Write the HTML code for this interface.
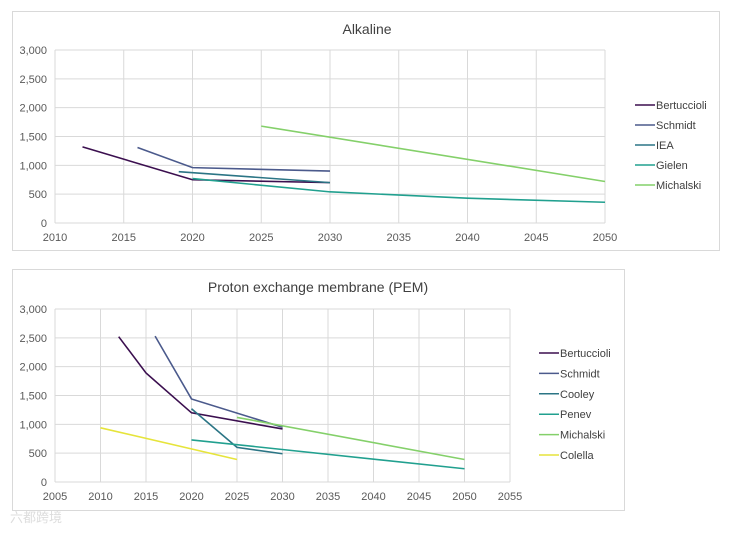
<!DOCTYPE html>
<html><head><meta charset="utf-8"><style>
body{margin:0;background:#fff;font-family:"Liberation Sans",sans-serif;}
svg text{font-family:"Liberation Sans",sans-serif;fill:#595959;}
</style></head><body>
<svg width="736" height="531">
<rect x="12.5" y="11.5" width="707" height="239" fill="#fff" stroke="#d9d9d9"/>
<rect x="12.5" y="269.5" width="612" height="241" fill="#fff" stroke="#d9d9d9"/>
<text x="367" y="34" font-size="14" text-anchor="middle" style="fill:#404040">Alkaline</text>
<text x="318" y="292" font-size="14" text-anchor="middle" style="fill:#404040">Proton exchange membrane (PEM)</text>
<g id="c1"></g><g id="c2"></g>
<text x="10" y="522" font-size="13" style="fill:#ddd">六都跨境</text>
</svg>
<script>
const yTicks=[0,500,1000,1500,2000,2500,3000];
const a_names=["Bertuccioli","Schmidt","IEA","Gielen","Michalski"];
const a_x=[[2012,2020,2030],[2016,2020,2030],[2019,2030],[2020,2030,2040,2050],[2025,2050]];
const a_y=[[1320,750,700],[1310,960,900],[890,700],[770,540,430,360],[1680,720]];
const a_xTicks=[2010,2015,2020,2025,2030,2035,2040,2045,2050];
const p_names=["Bertuccioli","Schmidt","Cooley","Penev","Michalski","Colella"];
const p_x=[[2012,2015,2020,2030],[2016,2020,2030],[2020,2025,2030],[2020,2050],[2025,2050],[2010,2025]];
const p_y=[[2520,1890,1200,920],[2530,1440,950],[1270,600,490],[730,230],[1120,390],[940,390]];
const p_xTicks=[2005,2010,2015,2020,2025,2030,2035,2040,2045,2050,2055];
const ac=["#3b0f4f","#4b5a8c","#2b7585","#21a08f","#84d06a"];
const pc=["#3b0f4f","#4b5a8c","#2b7585","#21a08f","#84d06a","#e6e43b"];
const NS="http://www.w3.org/2000/svg";
function mk(g,t,at){const e=document.createElementNS(NS,t);for(const k in at)e.setAttribute(k,at[k]);g.appendChild(e);return e;}
function draw(gid,cfg){
 const g=document.getElementById(gid);
 const sx=v=>cfg.x0+(v-cfg.xmin)/(cfg.xmax-cfg.xmin)*(cfg.x1-cfg.x0);
 const sy=v=>cfg.y0-(v/3000)*(cfg.y0-cfg.y1);
 cfg.xT.forEach(t=>{const l=mk(g,"line",{x1:sx(t),x2:sx(t),y1:cfg.y1,y2:cfg.y0,stroke:"#d9d9d9"});
  
  
  const tx=mk(g,"text",{x:sx(t),y:cfg.y0+18,"font-size":11,"text-anchor":"middle"});tx.textContent=t;
  
  });
 yTicks.forEach(t=>{const l=mk(g,"line",{x1:cfg.x0,x2:cfg.x1,y1:sy(t),y2:sy(t),stroke:"#d9d9d9"});
  
  
  const tx=mk(g,"text",{x:cfg.x0-8,y:sy(t)+4,"font-size":11,"text-anchor":"end"});tx.textContent=t.toLocaleString("en-US");
  
  });
 cfg.names.forEach((n,i)=>{
  const pts=cfg.xs[i].map((x,j)=>sx(x)+","+sy(cfg.ys[i][j])).join(" ");
  const pl=mk(g,"polyline",{points:pts,fill:"none",stroke:cfg.col[i],"stroke-width":1.6});
  
  
  const ly=cfg.ly+i*cfg.ld;
  const ll=mk(g,"line",{x1:cfg.lx,x2:cfg.lx+20,y1:ly,y2:ly,stroke:cfg.col[i],"stroke-width":1.5});
  
  
  const lt=mk(g,"text",{x:cfg.lx+21,y:ly+4,"font-size":11,style:"fill:#404040"});lt.textContent=n;
  
  
 });
}
draw("c1",{x0:55,x1:605,xmin:2010,xmax:2050,y0:223,y1:50,xT:a_xTicks,names:a_names,xs:a_x,ys:a_y,col:ac,lx:635,ly:105,ld:20});
draw("c2",{x0:55,x1:510,xmin:2005,xmax:2055,y0:482,y1:309,xT:p_xTicks,names:p_names,xs:p_x,ys:p_y,col:pc,lx:539,ly:353,ld:20.4});
</script>
</body></html>
